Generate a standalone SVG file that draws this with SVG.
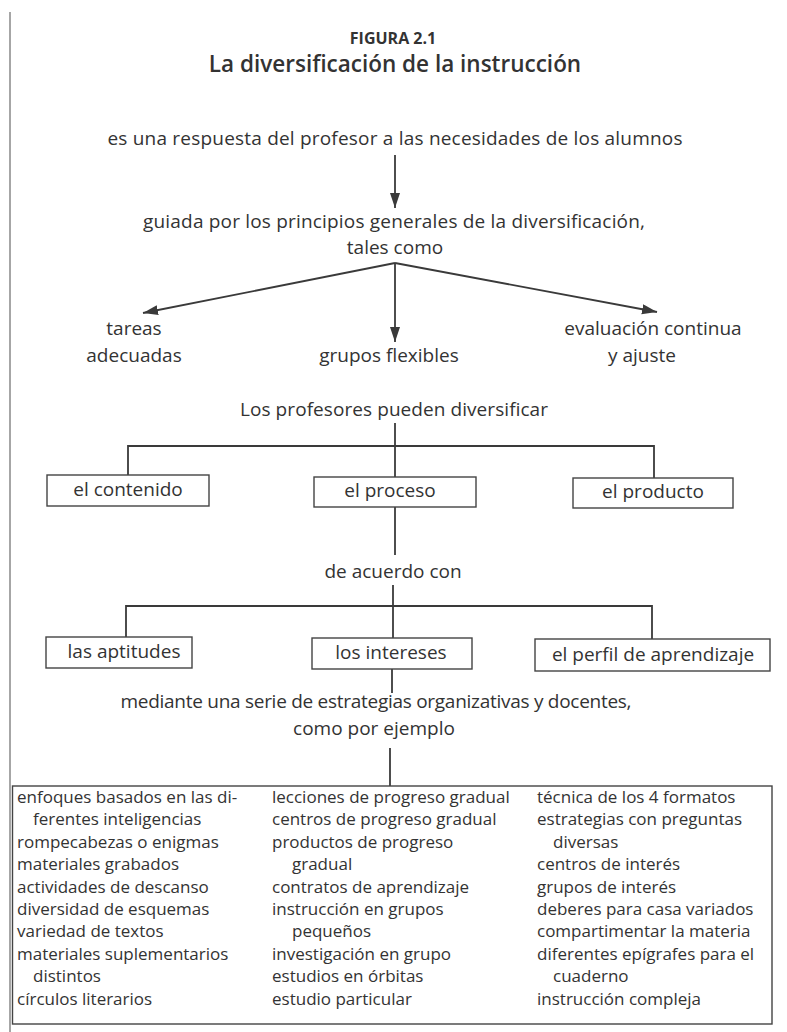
<svg xmlns="http://www.w3.org/2000/svg" width="787" height="1032" viewBox="0 0 787 1032">
<style>
text{font-family:"Open Sans","Noto Sans","DejaVu Sans",sans-serif;fill:#333;}
.t{font-size:19px;}
.s{font-size:17px;}
.c{text-anchor:middle;}
.ln{stroke:#3a3a3a;stroke-width:1.8;fill:none;}
.bx{stroke:#444;stroke-width:1.4;fill:#fff;}
.ar{stroke:#3a3a3a;stroke-width:1.8;fill:none;marker-end:url(#ah);}
</style>
<defs>
<marker id="ah" markerUnits="userSpaceOnUse" markerWidth="16" markerHeight="12" refX="15" refY="5" orient="auto">
<path d="M0,0 L15,5 L0,10 Z" fill="#3a3a3a"/>
</marker>
</defs>
<rect width="787" height="1032" fill="#fff"/>
<line x1="10" y1="12" x2="10" y2="1032" stroke="#888" stroke-width="1.5"/>
<g id="title">
<text x="393" y="44" class="c" style="font-size:16px;font-weight:700">FIGURA 2.1</text>
<text x="395" y="72" class="c" style="font-size:22.5px;font-weight:600">La diversificación de la instrucción</text>
</g>
<g id="connectors">
<line class="ar" x1="395" y1="155" x2="395" y2="208"/>
<line class="ar" x1="395" y1="263" x2="143" y2="313"/>
<line class="ar" x1="395" y1="263" x2="395" y2="342"/>
<line class="ar" x1="395" y1="263" x2="657" y2="312"/>
<line class="ln" x1="395" y1="423" x2="395" y2="477"/>
<polyline class="ln" points="128,475 128,446 654,446 654,478"/>
<line class="ln" x1="395" y1="507" x2="395" y2="555"/>
<line class="ln" x1="393" y1="585" x2="393" y2="638"/>
<polyline class="ln" points="126,637 126,606 652,606 652,639"/>
<line class="ln" x1="392" y1="669" x2="392" y2="693"/>
<line class="ln" x1="390" y1="748" x2="390" y2="786"/>
</g>
<g id="n-respuesta"><text x="395" y="145" class="t c" textLength="575">es una respuesta del profesor a las necesidades de los alumnos</text></g>
<g id="n-guiada">
<text x="394" y="228" class="t c" textLength="502">guiada por los principios generales de la diversificación,</text>
<text x="395" y="254" class="t c">tales como</text>
</g>
<g id="n-tareas">
<text x="134" y="335" class="t c">tareas</text>
<text x="134" y="362" class="t c">adecuadas</text>
</g>
<g id="n-grupos"><text x="389" y="362" class="t c">grupos flexibles</text></g>
<g id="n-evaluacion">
<text x="653" y="335" class="t c">evaluación continua</text>
<text x="642" y="362" class="t c">y ajuste</text>
</g>
<g id="n-profesores"><text x="394" y="416" class="t c" textLength="308">Los profesores pueden diversificar</text></g>
<g id="n-contenido"><rect class="bx" x="47" y="475" width="162" height="31"/><text x="128" y="496" class="t c">el contenido</text></g>
<g id="n-proceso"><rect class="bx" x="314" y="477" width="162" height="30"/><text x="390" y="497" class="t c">el proceso</text></g>
<g id="n-producto"><rect class="bx" x="573" y="478" width="160" height="30"/><text x="653" y="498" class="t c">el producto</text></g>
<g id="n-acuerdo"><text x="393" y="578" class="t c">de acuerdo con</text></g>
<g id="n-aptitudes"><rect class="bx" x="46" y="637" width="146" height="31"/><text x="124" y="658" class="t c">las aptitudes</text></g>
<g id="n-intereses"><rect class="bx" x="312" y="638" width="160" height="31"/><text x="391" y="659" class="t c">los intereses</text></g>
<g id="n-perfil"><rect class="bx" x="535" y="639" width="235" height="32"/><text x="653" y="661" class="t c">el perfil de aprendizaje</text></g>
<g id="n-mediante">
<text x="376" y="708" class="t c" textLength="511">mediante una serie de estrategias organizativas y docentes,</text>
<text x="374" y="735" class="t c">como por ejemplo</text>
</g>
<g id="n-estrategias">
<rect class="bx" x="12.5" y="786" width="759.5" height="238" fill="none"/>
<text class="s" x="17" y="803">enfoques basados en las di-</text>
<text class="s" x="33" y="825.4">ferentes inteligencias</text>
<text class="s" x="17" y="847.8">rompecabezas o enigmas</text>
<text class="s" x="17" y="870.2">materiales grabados</text>
<text class="s" x="17" y="892.6">actividades de descanso</text>
<text class="s" x="17" y="915">diversidad de esquemas</text>
<text class="s" x="17" y="937.4">variedad de textos</text>
<text class="s" x="17" y="959.8">materiales suplementarios</text>
<text class="s" x="33" y="982.2">distintos</text>
<text class="s" x="17" y="1004.6">círculos literarios</text>
<text class="s" x="272" y="803">lecciones de progreso gradual</text>
<text class="s" x="272" y="825.4">centros de progreso gradual</text>
<text class="s" x="272" y="847.8">productos de progreso</text>
<text class="s" x="292" y="870.2">gradual</text>
<text class="s" x="272" y="892.6">contratos de aprendizaje</text>
<text class="s" x="272" y="915">instrucción en grupos</text>
<text class="s" x="292" y="937.4">pequeños</text>
<text class="s" x="272" y="959.8">investigación en grupo</text>
<text class="s" x="272" y="982.2">estudios en órbitas</text>
<text class="s" x="272" y="1004.6">estudio particular</text>
<text class="s" x="537" y="803">técnica de los 4 formatos</text>
<text class="s" x="537" y="825.4">estrategias con preguntas</text>
<text class="s" x="553" y="847.8">diversas</text>
<text class="s" x="537" y="870.2">centros de interés</text>
<text class="s" x="537" y="892.6">grupos de interés</text>
<text class="s" x="537" y="915">deberes para casa variados</text>
<text class="s" x="537" y="937.4">compartimentar la materia</text>
<text class="s" x="537" y="959.8">diferentes epígrafes para el</text>
<text class="s" x="553" y="982.2">cuaderno</text>
<text class="s" x="537" y="1004.6">instrucción compleja</text>
</g>
</svg>
